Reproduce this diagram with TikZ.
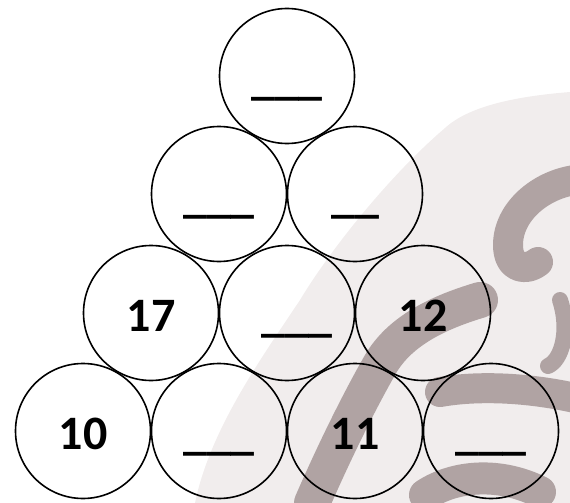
\documentclass[tikz,border=0pt]{standalone}
\usepackage{fontspec}
\setmainfont{Carlito}
\begin{document}
\begin{tikzpicture}[x=1pt,y=-1pt,
  ball/.style={circle,draw=black,line width=1.6pt,minimum size=135pt,inner sep=0pt},
  lbl/.style={anchor=base,inner sep=0pt,yshift=-18pt,font=\fontsize{48}{56}\selectfont\bfseries},
  wmark/.style={draw=wdark,line width=#1,line cap=round,line join=round,opacity=0.8},
  wmark/.default=28pt]
\definecolor{wlight}{HTML}{F1EDED}
\definecolor{wdark}{HTML}{A09191}
\useasboundingbox (0,0) rectangle (570,503);
% faded watermark
\fill[wlight] (570,92) .. controls (520,96) and (470,105) .. (445,128)
  .. controls (390,175) and (330,250) .. (300,300)
  .. controls (260,360) and (210,430) .. (195,503) -- (570,503) -- cycle;
\draw[wmark=30pt] (575,180) .. controls (540,185) and (508,212) .. (508,245)
  .. controls (508,268) and (525,272) .. (538,262);
\draw[wmark=36pt] (480,300) .. controls (440,312) and (400,330) .. (380,365)
  .. controls (360,400) and (335,450) .. (312,503);
\draw[wmark=30pt] (440,392) .. controls (480,385) and (530,388) .. (575,398);
\draw[wmark=32pt] (425,495) .. controls (455,475) and (500,472) .. (540,492);
\draw[wmark=16pt] (560,300) .. controls (570,330) and (562,360) .. (548,366);
% circles
\node[ball] (c1) at (287,76) {};
\node[ball] (c2) at (219,194) {};
\node[ball] (c3) at (355,194) {};
\node[ball] (c4) at (151,313) {};
\node[ball] (c5) at (287,313) {};
\node[ball] (c6) at (423,313) {};
\node[ball] (c7) at (83,431) {};
\node[ball] (c8) at (219,431) {};
\node[ball] (c9) at (355,431) {};
\node[ball] (c10) at (491,431) {};
% labels
\node[lbl] (t1) at (c1) {\_\_\_};
\node[lbl] (t2) at (c2) {\_\_\_};
\node[lbl] (t3) at (c3) {\_\_};
\node[lbl] (t4) at (c4) {17};
\node[lbl,xshift=10pt] (t5) at (c5) {\_\_\_};
\node[lbl] (t6) at (c6) {12};
\node[lbl] (t7) at (c7) {10};
\node[lbl] (t8) at (c8) {\_\_\_};
\node[lbl] (t9) at (c9) {11};
\node[lbl] (t10) at (c10) {\_\_\_};
\end{tikzpicture}
\end{document}
